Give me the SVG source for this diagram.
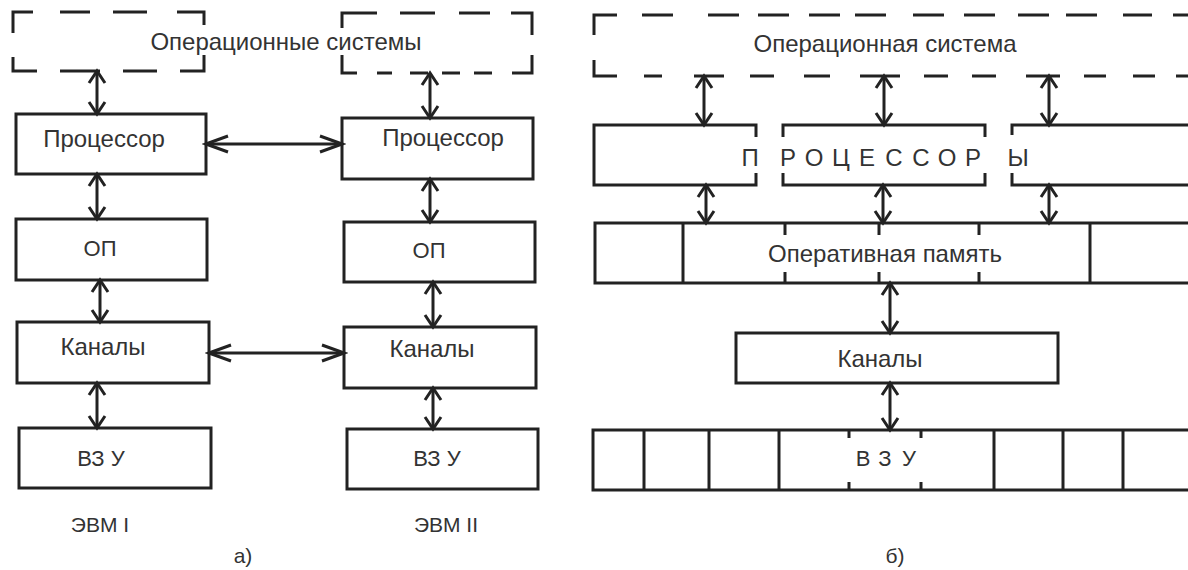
<svg xmlns="http://www.w3.org/2000/svg" width="1188" height="570" viewBox="0 0 1188 570">
<style>
.b{fill:none;stroke:#222;stroke-width:3}
.c{fill:none;stroke:#222;stroke-width:3}
.t{font-family:"Liberation Sans",Arial,sans-serif;font-size:24px;fill:#333;text-anchor:middle}
.s{font-size:21px}
.v{marker-start:url(#hv);marker-end:url(#hv)}
.h{marker-start:url(#hh);marker-end:url(#hh)}
</style>
<defs>
<marker id="hv" markerUnits="userSpaceOnUse" viewBox="-16 -12 20 24" markerWidth="20" markerHeight="24" refX="0" refY="0" orient="auto-start-reverse"><path d="M-12,-8 L0,0 L-12,8" fill="none" stroke="#222" stroke-width="3"/></marker>
<marker id="hh" markerUnits="userSpaceOnUse" viewBox="-26 -12 30 24" markerWidth="30" markerHeight="24" refX="0" refY="0" orient="auto-start-reverse"><path d="M-22,-8 L0,0 L-22,8" fill="none" stroke="#222" stroke-width="3"/></marker>
</defs>
<rect width="1188" height="570" fill="#fff"/>

<!-- a) -->
<g id="os-a">
<path class="b" d="M13,33 V12 H33 M60,12 H90 M113,12 H147 M177,12 H204 V25 M13,57 V71 H37 M60,71 H100 M123,71 H157 M180,71 H204 V55"/>
<path class="b" d="M342,28 V13 H377 M400,13 H435 M459,13 H490 M511,13 H532 V35 M342,55 V73 H357 M377,73 H392 M410,73 H428 M442,73 H460 M474,73 H492 M512,73 H532 V55"/>
<text class="t" x="286" y="50">Операционные системы</text>
</g>
<g id="cpu-a1"><rect class="b" x="16" y="114" width="190" height="60"/><text class="t" x="104" y="147">Процессор</text></g>
<g id="ram-a1"><rect class="b" x="16" y="219" width="191" height="61"/><text class="t" x="100" y="256" style="font-size:22px">ОП</text></g>
<g id="ch-a1"><rect class="b" x="17" y="322" width="192" height="61"/><text class="t" x="103" y="355">Каналы</text></g>
<g id="vzu-a1"><rect class="b" x="19" y="428" width="192" height="60"/><text class="t" x="101" y="466" style="font-size:22px">ВЗ У</text></g>
<g id="cpu-a2"><rect class="b" x="342" y="118" width="191" height="61"/><text class="t" x="443" y="146">Процессор</text></g>
<g id="ram-a2"><rect class="b" x="344" y="222" width="191" height="60"/><text class="t" x="429" y="258" style="font-size:22px">ОП</text></g>
<g id="ch-a2"><rect class="b" x="344" y="327" width="192" height="61"/><text class="t" x="432" y="357">Каналы</text></g>
<g id="vzu-a2"><rect class="b" x="347" y="429" width="191" height="60"/><text class="t" x="437" y="466" style="font-size:22px">ВЗ У</text></g>
<g id="labels-a">
<text class="t s" x="100" y="532">ЭВМ I</text>
<text class="t s" x="446" y="532">ЭВМ II</text>
<text class="t s" x="243" y="563">а)</text>
</g>

<!-- b) -->
<g id="os-b">
<path class="b" d="M594,35 V15 H617 M642,15 H673 M708,15 H739 M758,15 H789 M809,15 H840 M855,15 H886 M913,15 H944 M964,15 H995 M1018,15 H1049 M1066,15 H1097 M1123,15 H1152 M1173,15 H1190"/>
<path class="b" d="M594,60 V76 H617 M644,76 H662 M694,76 H724 M750,76 H774 M804,76 H830 M860,76 H900 M924,76 H948 M972,76 H996 M1026,76 H1060 M1084,76 H1106 M1133,76 H1155 M1176,76 H1190"/>
<text class="t" x="885" y="52">Операционная система</text>
</g>
<g id="cpu-b">
<path class="b" d="M756,137 V125 H594 V185 H756 V173"/>
<path class="b" d="M783,137 V125 H985 V137 M783,173 V185 H985 V173"/>
<path class="b" d="M1012,135 V125 H1190 M1012,173 V185 H1190"/>
<g class="t">
<text x="750" y="166">П</text><text x="788" y="166">Р</text><text x="814" y="166">О</text><text x="841" y="166">Ц</text><text x="867" y="166">Е</text><text x="894" y="166">С</text><text x="921" y="166">С</text><text x="947" y="166">О</text><text x="973" y="166">Р</text><text x="1018" y="166">Ы</text>
</g>
</g>
<g id="ram-b">
<path class="b" d="M1190,223 H595 V283 H1190 M683,223 V283 M1090,223 V283 M785,223 V235 M879,223 V235 M979,223 V235 M785,272 V283 M879,272 V283 M979,272 V283"/>
<text class="t" x="885" y="262">Оперативная память</text>
</g>
<g id="ch-b"><rect class="b" x="736" y="333" width="322" height="50"/><text class="t" x="880" y="367">Каналы</text></g>
<g id="vzu-b">
<path class="b" d="M1190,430 H593 V490 H1190 M644,430 V490 M709,430 V490 M779,430 V490 M994,430 V490 M1063,430 V490 M1123,430 V490 M849,430 V438 M921,430 V438 M849,482 V490 M921,482 V490"/>
<g class="t" style="font-size:22px"><text x="863" y="466">В</text><text x="885" y="466">З</text><text x="909" y="466">У</text></g>
</g>
<g id="labels-b"><text class="t s" x="895" y="563">б)</text></g>

<g id="connectors">
<line class="c v" x1="97" y1="71" x2="97" y2="114"/>
<line class="c v" x1="97" y1="174" x2="97" y2="219"/>
<line class="c v" x1="100" y1="280" x2="100" y2="322"/>
<line class="c v" x1="97" y1="383" x2="97" y2="428"/>
<line class="c v" x1="430" y1="73" x2="430" y2="118"/>
<line class="c v" x1="430" y1="179" x2="430" y2="222"/>
<line class="c v" x1="433" y1="282" x2="433" y2="327"/>
<line class="c v" x1="433" y1="388" x2="433" y2="429"/>
<line class="c h" x1="206" y1="144" x2="342" y2="144"/>
<line class="c h" x1="209" y1="353" x2="344" y2="353"/>
<line class="c v" x1="704" y1="76" x2="704" y2="125"/>
<line class="c v" x1="884" y1="76" x2="884" y2="125"/>
<line class="c v" x1="1049" y1="76" x2="1049" y2="125"/>
<line class="c v" x1="706" y1="185" x2="706" y2="223"/>
<line class="c v" x1="883" y1="185" x2="883" y2="223"/>
<line class="c v" x1="1049" y1="185" x2="1049" y2="223"/>
<line class="c v" x1="890" y1="283" x2="890" y2="333"/>
<line class="c v" x1="890" y1="383" x2="890" y2="430"/>
</g>
</svg>
